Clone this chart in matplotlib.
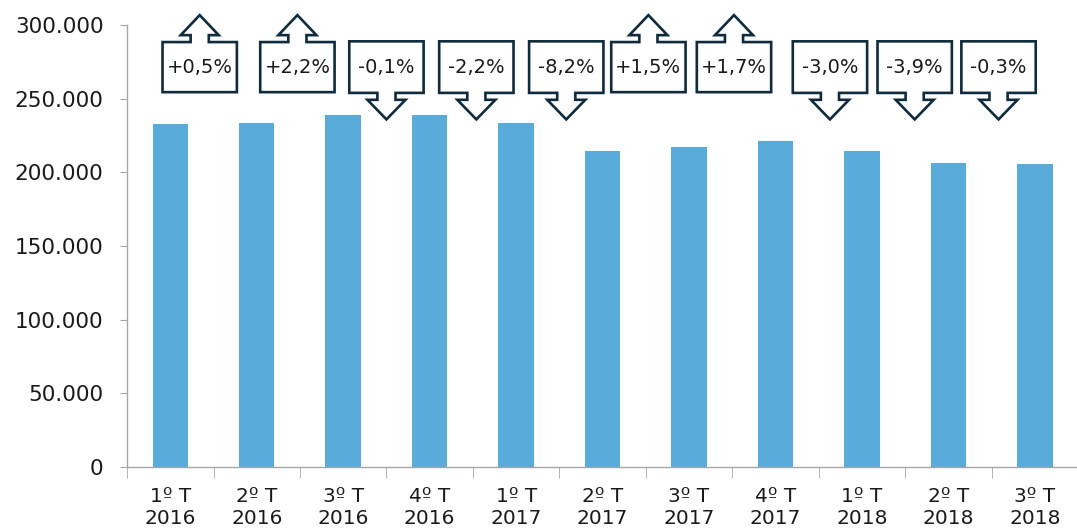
import numpy as np
import matplotlib
matplotlib.use("Agg")
import matplotlib.pyplot as plt
from matplotlib.patches import Polygon
from matplotlib.ticker import FuncFormatter, MultipleLocator

# data
quarters = ["1º T\n2016", "2º T\n2016", "3º T\n2016", "4º T\n2016",
            "1º T\n2017", "2º T\n2017", "3º T\n2017", "4º T\n2017",
            "1º T\n2018", "2º T\n2018", "3º T\n2018"]
values = [232700, 233900, 239000, 238800, 233500, 214400,
          217600, 221300, 214600, 206300, 205700]
changes = ["+0,5%", "+2,2%", "-0,1%", "-2,2%", "-8,2%", "+1,5%",
           "+1,7%", "-3,0%", "-3,9%", "-0,3%"]

# small horizontal nudges of the callouts (in category units)
nudge = [-0.16, -0.03, 0.0, 0.04, 0.08, 0.03, 0.02, 0.13, 0.11, 0.08]

bar_color = "#59acd9"
edge = "#0f2b3c"
plt.rcParams['font.family'] = ['DejaVu Sans']

fig = plt.figure(figsize=(10.77, 5.29), dpi=100)
ax = fig.add_axes([0.118, 0.117, 0.883, 0.8355])

x = np.arange(len(values))
ax.bar(x, values, width=0.41, color=bar_color, zorder=2)

ax.set_xlim(-0.5, len(values) - 0.5)
ax.set_ylim(0, 300000)
ax.yaxis.set_major_locator(MultipleLocator(50000))
ax.yaxis.set_major_formatter(FuncFormatter(lambda v, p: f"{int(v):,}".replace(",", ".")))
ax.set_xticks(x)
ax.set_xticklabels(quarters)
ax.set_xticks(np.arange(-0.5, len(values), 1), minor=True)

for s in ["top", "right"]:
    ax.spines[s].set_visible(False)
for s in ["left", "bottom"]:
    ax.spines[s].set_color("#a6a6a6")
    ax.spines[s].set_linewidth(1.0)

ax.tick_params(axis="y", length=5, color="#a6a6a6", labelsize=15.5,
               labelcolor="#1a1a1a", pad=12)
ax.tick_params(axis="x", which="major", length=0, labelsize=14.5,
               labelcolor="#1a1a1a", pad=14)
ax.tick_params(axis="x", which="minor", length=8, color="#a6a6a6")
for lab in ax.get_xticklabels():
    lab.set_linespacing(1.25)

# callout geometry (data units)
bw, shaft, head = 0.86, 0.21, 0.44
up_box = (254500, 288500)
up_neck, up_tip = 293200, 306800
dn_box = (254000, 289000)
dn_neck, dn_tip = 249300, 236000

for i, lab in enumerate(changes):
    cx = i + 0.5 + nudge[i]
    l, r = cx - bw / 2, cx + bw / 2
    if lab.startswith("+"):
        b, t = up_box
        pts = [(l, b), (r, b), (r, t), (cx + shaft / 2, t), (cx + shaft / 2, up_neck),
               (cx + head / 2, up_neck), (cx, up_tip), (cx - head / 2, up_neck),
               (cx - shaft / 2, up_neck), (cx - shaft / 2, t), (l, t)]
    else:
        b, t = dn_box
        pts = [(l, t), (r, t), (r, b), (cx + shaft / 2, b), (cx + shaft / 2, dn_neck),
               (cx + head / 2, dn_neck), (cx, dn_tip), (cx - head / 2, dn_neck),
               (cx - shaft / 2, dn_neck), (cx - shaft / 2, b), (l, b)]
    ax.add_patch(Polygon(pts, closed=True, facecolor="white", edgecolor=edge,
                         linewidth=1.9, joinstyle="miter", clip_on=False, zorder=3))
    ax.text(cx, (b + t) / 2, lab, ha="center", va="center", fontsize=14,
            color="#1a1a1a", zorder=4)

fig.savefig("out.png", dpi=100)
